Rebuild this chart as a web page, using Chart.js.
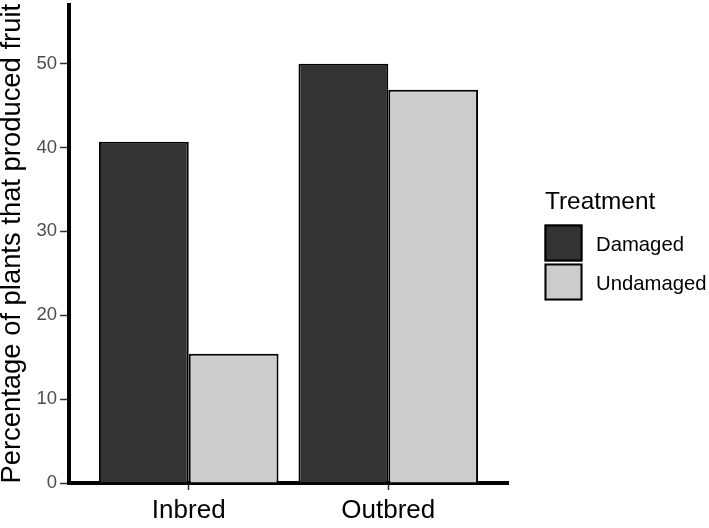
<!DOCTYPE html>
<html>
<head>
<meta charset="utf-8">
<script src="https://cdn.jsdelivr.net/npm/chart.js@4/dist/chart.umd.min.js"></script>
<style>
  html, body { margin: 0; padding: 0; background: #ffffff; }
  #wrap { width: 709px; height: 528px; }
</style>
</head>
<body>
<div id="wrap"><canvas id="c" width="709" height="528"></canvas></div>
<script>
const categories = ['Inbred', 'Outbred'];
const seriesNames = ['Damaged', 'Undamaged'];
const damagedValues = [40.7, 50.0];
const undamagedValues = [15.4, 46.9];
const yTickValues = [0, 10, 20, 30, 40, 50];
const legendTitle = 'Treatment';
const yAxisTitle = 'Percentage of plants that produced fruit';

const seriesColors = ['#333333', '#CCCCCC'];
const FONT = "'Liberation Sans', Arial, Helvetica, sans-serif";

const seriesValues = [damagedValues, undamagedValues];
const datasets = seriesNames.map((name, s) => ({
  label: name,
  data: categories.map((c, i) => ({ x: i, y: seriesValues[s][i] })),
  backgroundColor: seriesColors[s],
  borderColor: '#000000',
  borderWidth: 2,
  borderSkipped: 'start',
  categoryPercentage: 0.9,
  barPercentage: 1.0
}));

const legendPlugin = {
  id: 'ggLegend',
  afterDraw(chart) {
    const ctx = chart.ctx;
    ctx.save();
    ctx.fillStyle = '#000000';
    ctx.textAlign = 'left';
    ctx.textBaseline = 'alphabetic';
    ctx.font = '24.4px ' + FONT;
    ctx.fillText(legendTitle, 545, 208.5);
    const boxTops = [224.5, 263.5];
    chart.data.datasets.forEach((ds, i) => {
      const x = 544.5, y = boxTops[i], w = 38, h = 37;
      ctx.fillStyle = ds.backgroundColor;
      ctx.fillRect(x, y, w, h);
      ctx.strokeStyle = '#000000';
      ctx.lineWidth = 2;
      ctx.strokeRect(x + 1, y + 1, w - 2, h - 2);
      ctx.fillStyle = '#000000';
      ctx.font = '20.3px ' + FONT;
      ctx.fillText(ds.label, 596, y + 26.3);
    });
    ctx.restore();
  }
};

new Chart(document.getElementById('c'), {
  type: 'bar',
  data: { datasets },
  plugins: [legendPlugin],
  options: {
    responsive: false,
    animation: false,
    devicePixelRatio: 1,
    layout: { padding: { left: 0, right: 201, top: 4.5, bottom: 0 } },
    plugins: {
      legend: { display: false },
      tooltip: { enabled: false }
    },
    scales: {
      x: {
        type: 'linear',
        min: -0.6,
        max: 1.6,
        offset: false,
        afterBuildTicks: (scale) => { scale.ticks = categories.map((c, i) => ({ value: i })); },
        afterFit: (scale) => { scale.height = 45; scale.paddingLeft = 0; scale.paddingRight = 0; },
        ticks: {
          callback: (v) => categories[v] !== undefined ? categories[v] : '',
          color: '#000000',
          font: { family: FONT, size: 26 },
          padding: 5,
          maxRotation: 0,
          autoSkip: false
        },
        grid: { offset: false, drawOnChartArea: false, drawTicks: true, tickLength: 7, tickColor: '#333333', tickWidth: 1.5 },
        border: { display: true, color: '#000000', width: 4 }
      },
      y: {
        type: 'linear',
        min: 0,
        max: 57.05,
        afterBuildTicks: (scale) => { scale.ticks = yTickValues.map(v => ({ value: v })); },
        afterFit: (scale) => { scale.width = 69; scale.paddingTop = 0; scale.paddingBottom = 0; },
        ticks: {
          color: '#4D4D4D',
          font: { family: FONT, size: 18.5 },
          padding: 3
        },
        grid: { drawOnChartArea: false, drawTicks: true, tickLength: 9, tickColor: '#333333', tickWidth: 1.5 },
        border: { display: true, color: '#000000', width: 4 },
        title: {
          display: true,
          text: yAxisTitle,
          color: '#000000',
          font: { family: FONT, size: 27.4, lineHeight: 1 },
          padding: { top: -1.2, bottom: 0 }
        }
      }
    }
  }
});
</script>
</body>
</html>
